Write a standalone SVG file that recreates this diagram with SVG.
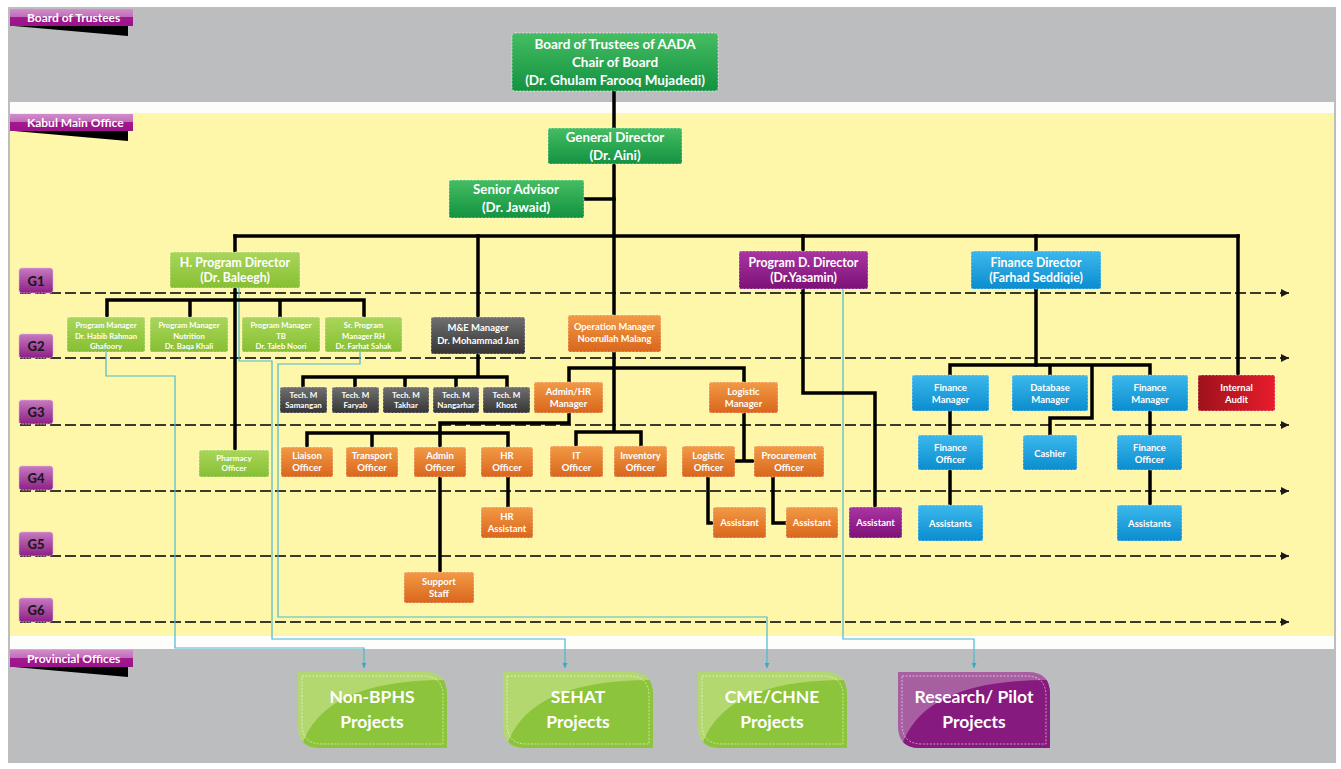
<svg xmlns="http://www.w3.org/2000/svg" width="1341" height="769" viewBox="0 0 1341 769">
<defs>
<linearGradient id="gDk" x1="0" y1="0" x2="0" y2="1"><stop offset="0" stop-color="#45bd62"/><stop offset="1" stop-color="#139241"/></linearGradient>
<linearGradient id="gLt" x1="0" y1="0" x2="0" y2="1"><stop offset="0" stop-color="#aad65a"/><stop offset="1" stop-color="#86bf33"/></linearGradient>
<linearGradient id="gOr" x1="0" y1="0" x2="0" y2="1"><stop offset="0" stop-color="#f29a45"/><stop offset="1" stop-color="#d9661c"/></linearGradient>
<linearGradient id="gGy" x1="0" y1="0" x2="0" y2="1"><stop offset="0" stop-color="#707070"/><stop offset="1" stop-color="#353535"/></linearGradient>
<linearGradient id="gPu" x1="0" y1="0" x2="0" y2="1"><stop offset="0" stop-color="#aa35a3"/><stop offset="1" stop-color="#7d1177"/></linearGradient>
<linearGradient id="gBl" x1="0" y1="0" x2="0" y2="1"><stop offset="0" stop-color="#3cb8ec"/><stop offset="1" stop-color="#0a8dcf"/></linearGradient>
<linearGradient id="gRd" x1="1" y1="0" x2="0" y2="0"><stop offset="0" stop-color="#e81c2c"/><stop offset="1" stop-color="#9e121c"/></linearGradient>
<linearGradient id="gTab" x1="0" y1="0" x2="0" y2="1"><stop offset="0" stop-color="#d28ccb"/><stop offset="0.45" stop-color="#c070b8"/><stop offset="0.5" stop-color="#a3188f"/><stop offset="1" stop-color="#9b1489"/></linearGradient>
<linearGradient id="gG" x1="0" y1="0" x2="0" y2="1"><stop offset="0" stop-color="#c67ac0"/><stop offset="1" stop-color="#8e1f86"/></linearGradient>
<marker id="ah" viewBox="0 0 10 10" refX="10" refY="5" markerWidth="11" markerHeight="8" markerUnits="userSpaceOnUse" orient="auto"><path d="M0,0 L10,5 L0,10 z" fill="#1a1a1a"/></marker>
<marker id="ahc" viewBox="0 0 10 10" refX="10" refY="5" markerWidth="5" markerHeight="5" markerUnits="userSpaceOnUse" orient="auto"><path d="M0,0 L10,5 L0,10 z" fill="#3aa8c8"/></marker>
<clipPath id="cp1"><path d="M298,672 H425 Q447,672 447,694 V748 H320 Q298,748 298,726 Z"/></clipPath>
<clipPath id="cp2"><path d="M503,672 H631 Q653,672 653,694 V748 H525 Q503,748 503,726 Z"/></clipPath>
<clipPath id="cp3"><path d="M698,672 H825 Q847,672 847,694 V748 H720 Q698,748 698,726 Z"/></clipPath>
<clipPath id="cp4"><path d="M898,672 H1028 Q1050,672 1050,694 V748 H920 Q898,748 898,726 Z"/></clipPath>
</defs>
<style>
.bx{stroke:#ffffff;stroke-opacity:.6;stroke-width:1;stroke-dasharray:2 1.5}
.t{font-family:Lato,"Liberation Sans",sans-serif;font-weight:700;fill:#ffffff;text-anchor:middle}
.s7{font-size:7.7px}.s8{font-size:8px}.s9{font-size:9.5px}.s10{font-size:10px}
.ln{fill:none;stroke:#000;stroke-width:3.5;stroke-linecap:square}
.gl{fill:none;stroke:#3b3a2e;stroke-width:2;stroke-dasharray:11 4}
.cy{fill:none;stroke:#4cb8cf;stroke-width:1.2}
.dk{fill:url(#gDk)}.lt{fill:url(#gLt)}.or{fill:url(#gOr)}.gy{fill:url(#gGy)}.pu{fill:url(#gPu)}.bl{fill:url(#gBl)}.rd{fill:url(#gRd)}
.tab{fill:url(#gTab)}
.tt{font-family:Lato,"Liberation Sans",sans-serif;font-weight:700;font-size:12px;fill:#ffffff}
.gb{fill:url(#gG);stroke:#e3b5df;stroke-width:.8;stroke-dasharray:2 1}
.gt{font-family:Lato,"Liberation Sans",sans-serif;font-weight:900;font-size:13px;fill:#1a1a1a;text-anchor:middle}
.pr{font-family:Lato,"Liberation Sans",sans-serif;font-weight:700;font-size:17.5px;fill:#ffffff;text-anchor:middle}
.pd{fill:none;stroke:#ffffff;stroke-opacity:.7;stroke-width:.8;stroke-dasharray:2 1.5}
</style>

<!-- background -->
<g id="background">
<rect x="0" y="0" width="1341" height="769" fill="#ffffff"/>
<rect x="8" y="7" width="1328" height="756" fill="#bcbdbf"/>
<rect x="10" y="102" width="1324" height="11" fill="#fdfdfb"/>
<rect x="10" y="113" width="1324" height="523" fill="#fef6a9"/>
<rect x="10" y="636" width="1324" height="13" fill="#fdfdfb"/>
</g>

<!-- section tabs -->
<g id="tab-board">
<polygon points="14,26 128,26 128,36" fill="#000"/>
<rect x="10" y="9" width="123" height="17" class="tab"/>
<text x="27" y="22" class="tt">Board of Trustees</text>
</g>
<g id="tab-kabul">
<polygon points="14,131 128,131 128,141" fill="#000"/>
<rect x="10" y="114" width="123" height="17" class="tab"/>
<text x="27" y="127" class="tt">Kabul Main Office</text>
</g>
<g id="tab-provincial">
<polygon points="14,667 128,667 128,677" fill="#000"/>
<rect x="10" y="650" width="123" height="17" class="tab"/>
<text x="27" y="663" class="tt">Provincial Offices</text>
</g>

<!-- grade lines -->
<g id="grade-lines">
<path class="gl" d="M20,293 H1289" marker-end="url(#ah)"/>
<path class="gl" d="M20,358 H1289" marker-end="url(#ah)"/>
<path class="gl" d="M20,425 H1289" marker-end="url(#ah)"/>
<path class="gl" d="M20,491 H1289" marker-end="url(#ah)"/>
<path class="gl" d="M20,556 H1289" marker-end="url(#ah)"/>
<path class="gl" d="M20,622 H1289" marker-end="url(#ah)"/>
</g>
<g id="grade-labels">
<rect x="19" y="268" width="34" height="25" rx="3" class="gb"/><text x="36" y="285.5" class="gt">G1</text>
<rect x="19" y="334" width="34" height="24" rx="3" class="gb"/><text x="36" y="350.5" class="gt">G2</text>
<rect x="19" y="400" width="34" height="24" rx="3" class="gb"/><text x="36" y="416.5" class="gt">G3</text>
<rect x="19" y="466" width="34" height="24" rx="3" class="gb"/><text x="36" y="482.5" class="gt">G4</text>
<rect x="19" y="532" width="34" height="24" rx="3" class="gb"/><text x="36" y="548.5" class="gt">G5</text>
<rect x="19" y="598" width="34" height="24" rx="3" class="gb"/><text x="36" y="614.5" class="gt">G6</text>
</g>

<!-- connectors -->
<g id="connectors">
<path class="cy" d="M106,352 V376 H175 V648 H364 V668" marker-end="url(#ahc)"/>
<path class="cy" d="M239,288 V361 H272 V639 H565 V668" marker-end="url(#ahc)"/>
<path class="cy" d="M360,352 V364 H278 V617 H767 V668" marker-end="url(#ahc)"/>
<path class="cy" d="M843,289 V639 H974 V668" marker-end="url(#ahc)"/>
<path class="ln" d="M614,91 V315"/>
<path class="ln" d="M584,199 H614"/>
<path class="ln" d="M235,236 H1238"/>
<path class="ln" d="M235,236 V450"/>
<path class="ln" d="M478,236 V317"/>
<path class="ln" d="M803,236 V393 H875 V507"/>
<path class="ln" d="M1036,236 V365"/>
<path class="ln" d="M1238,236 V375"/>
<path class="ln" d="M107,300 H364 M107,300 V317 M190,300 V317 M280,300 V317 M364,300 V317"/>
<path class="ln" d="M478,354 V377 M303,377 H507 M303,377 V387 M355,377 V387 M405,377 V387 M456,377 V387 M507,377 V387"/>
<path class="ln" d="M569,368 H744 M569,368 V382 M744,368 V382"/>
<path class="ln" d="M614,352 V432 M576,432 H641 M576,432 V446 M641,432 V446"/>
<path class="ln" d="M569,413 V423 H440 V447 M307,433 H508 M307,433 V447 M372,433 V447 M508,433 V447"/>
<path class="ln" d="M440,477 V572"/>
<path class="ln" d="M508,477 V507"/>
<path class="ln" d="M744,413 V461 M735,461 H754"/>
<path class="ln" d="M708,477 V523 H713 M773,477 V523 H786"/>
<path class="ln" d="M950,365 H1150 M950,365 V375 M1050,365 V375 M1150,365 V375 M1092,365 V418 H1050 V435"/>
<path class="ln" d="M950,411 V505 M1150,411 V505"/>
</g>

<!-- nodes -->
<g id="n-board"><rect x="512" y="33" width="206" height="58" rx="3" class="dk bx"/>
<text x="615" y="48.5" class="t" style="font-size:13.5px">Board of Trustees of AADA</text>
<text x="615" y="66.5" class="t" style="font-size:13.5px">Chair of Board</text>
<text x="615" y="84.5" class="t" style="font-size:13.5px">(Dr. Ghulam Farooq Mujadedi)</text></g>

<g id="n-gd"><rect x="548" y="128" width="134" height="36" rx="2" class="dk bx"/>
<text x="615" y="142" class="t" style="font-size:13.3px">General Director</text>
<text x="615" y="160" class="t" style="font-size:13.3px">(Dr. Aini)</text></g>

<g id="n-sa"><rect x="449" y="180" width="135" height="38" rx="2" class="dk bx"/>
<text x="516" y="193.5" class="t" style="font-size:13.3px">Senior Advisor</text>
<text x="516" y="211.5" class="t" style="font-size:13.3px">(Dr. Jawaid)</text></g>

<g id="n-hpd"><rect x="170" y="252" width="130" height="36" rx="2" class="lt bx"/>
<text x="235" y="266.5" class="t" style="font-size:12.3px">H. Program Director</text>
<text x="235" y="281.5" class="t" style="font-size:12.3px">(Dr. Baleegh)</text></g>

<g id="n-pm1"><rect x="67" y="317" width="78" height="35" rx="2" class="lt bx"/>
<text x="106" y="327.8" class="t s7">Program Manager</text>
<text x="106" y="338.6" class="t s7">Dr. Habib Rahman</text>
<text x="106" y="349" class="t s7">Ghafoory</text></g>
<g id="n-pm2"><rect x="150" y="317" width="78" height="35" rx="2" class="lt bx"/>
<text x="189" y="327.8" class="t s7">Program Manager</text>
<text x="189" y="338.6" class="t s7">Nutrition</text>
<text x="189" y="349" class="t s7">Dr. Baqa Khali</text></g>
<g id="n-pm3"><rect x="242" y="317" width="78" height="35" rx="2" class="lt bx"/>
<text x="281" y="327.8" class="t s7">Program Manager</text>
<text x="281" y="338.6" class="t s7">TB</text>
<text x="281" y="349" class="t s7">Dr. Taleb Noori</text></g>
<g id="n-pm4"><rect x="325" y="317" width="77" height="35" rx="2" class="lt bx"/>
<text x="363.5" y="327.8" class="t s7">Sr. Program</text>
<text x="363.5" y="338.6" class="t s7">Manager RH</text>
<text x="363.5" y="349" class="t s7">Dr. Farhat Sahak</text></g>

<g id="n-pharm"><rect x="199" y="450" width="70" height="27" rx="2" class="lt bx"/>
<text x="234" y="461" class="t s8">Pharmacy</text>
<text x="234" y="471" class="t s8">Officer</text></g>

<g id="n-me"><rect x="431" y="317" width="94" height="37" rx="2" class="gy bx"/>
<text x="478" y="330.5" class="t" style="font-size:9.5px">M&amp;E Manager</text>
<text x="478" y="343.5" class="t" style="font-size:9.5px">Dr. Mohammad Jan</text></g>

<g id="n-t1"><rect x="280" y="387" width="47" height="26" rx="2" class="gy bx"/>
<text x="303.5" y="397.8" class="t s8">Tech. M</text><text x="303.5" y="408" class="t s8">Samangan</text></g>
<g id="n-t2"><rect x="332" y="387" width="47" height="26" rx="2" class="gy bx"/>
<text x="355.5" y="397.8" class="t s8">Tech. M</text><text x="355.5" y="408" class="t s8">Faryab</text></g>
<g id="n-t3"><rect x="383" y="387" width="46" height="26" rx="2" class="gy bx"/>
<text x="406" y="397.8" class="t s8">Tech. M</text><text x="406" y="408" class="t s8">Takhar</text></g>
<g id="n-t4"><rect x="433" y="387" width="46" height="26" rx="2" class="gy bx"/>
<text x="456" y="397.8" class="t s8">Tech. M</text><text x="456" y="408" class="t s8">Nangarhar</text></g>
<g id="n-t5"><rect x="483" y="387" width="47" height="26" rx="2" class="gy bx"/>
<text x="506.5" y="397.8" class="t s8">Tech. M</text><text x="506.5" y="408" class="t s8">Khost</text></g>

<g id="n-op"><rect x="568" y="315" width="93" height="37" rx="2" class="or bx"/>
<text x="614.5" y="329.5" class="t" style="font-size:9.3px">Operation Manager</text>
<text x="614.5" y="341.5" class="t" style="font-size:9.3px">Noorullah Malang</text></g>

<g id="n-ahr"><rect x="534" y="382" width="69" height="31" rx="2" class="or bx"/>
<text x="568.5" y="394.5" class="t s9">Admin/HR</text><text x="568.5" y="406.5" class="t s9">Manager</text></g>
<g id="n-lm"><rect x="709" y="382" width="69" height="31" rx="2" class="or bx"/>
<text x="743.5" y="394.5" class="t s9">Logistic</text><text x="743.5" y="406.5" class="t s9">Manager</text></g>

<g id="n-liaison"><rect x="281" y="447" width="52" height="30" rx="2" class="or bx"/>
<text x="307" y="458.5" class="t s9">Liaison</text><text x="307" y="470.5" class="t s9">Officer</text></g>
<g id="n-transport"><rect x="346" y="447" width="52" height="30" rx="2" class="or bx"/>
<text x="372" y="458.5" class="t s9">Transport</text><text x="372" y="470.5" class="t s9">Officer</text></g>
<g id="n-admin"><rect x="414" y="447" width="52" height="30" rx="2" class="or bx"/>
<text x="440" y="458.5" class="t s9">Admin</text><text x="440" y="470.5" class="t s9">Officer</text></g>
<g id="n-hr"><rect x="481" y="447" width="52" height="30" rx="2" class="or bx"/>
<text x="507" y="458.5" class="t s9">HR</text><text x="507" y="470.5" class="t s9">Officer</text></g>
<g id="n-it"><rect x="550" y="446" width="53" height="31" rx="2" class="or bx"/>
<text x="576.5" y="458.5" class="t s9">IT</text><text x="576.5" y="470.5" class="t s9">Officer</text></g>
<g id="n-inv"><rect x="614" y="446" width="53" height="31" rx="2" class="or bx"/>
<text x="640.5" y="458.5" class="t s9">Inventory</text><text x="640.5" y="470.5" class="t s9">Officer</text></g>
<g id="n-lo"><rect x="682" y="446" width="53" height="31" rx="2" class="or bx"/>
<text x="708.5" y="458.5" class="t s9">Logistic</text><text x="708.5" y="470.5" class="t s9">Officer</text></g>
<g id="n-po"><rect x="754" y="446" width="70" height="31" rx="2" class="or bx"/>
<text x="789" y="458.5" class="t s9">Procurement</text><text x="789" y="470.5" class="t s9">Officer</text></g>

<g id="n-hra"><rect x="481" y="507" width="52" height="31" rx="2" class="or bx"/>
<text x="507" y="519.5" class="t s9">HR</text><text x="507" y="531.5" class="t s9">Assistant</text></g>
<g id="n-as1"><rect x="713" y="507" width="53" height="31" rx="2" class="or bx"/>
<text x="739.5" y="526" class="t s9">Assistant</text></g>
<g id="n-as2"><rect x="786" y="507" width="52" height="31" rx="2" class="or bx"/>
<text x="812" y="526" class="t s9">Assistant</text></g>
<g id="n-support"><rect x="404" y="572" width="70" height="31" rx="2" class="or bx"/>
<text x="439" y="584.5" class="t s9">Support</text><text x="439" y="596.5" class="t s9">Staff</text></g>

<g id="n-pdd"><rect x="739" y="251" width="129" height="38" rx="2" class="pu bx"/>
<text x="803.5" y="266.5" class="t" style="font-size:12.3px">Program D. Director</text>
<text x="803.5" y="282" class="t" style="font-size:12.3px">(Dr.Yasamin)</text></g>
<g id="n-pas"><rect x="849" y="507" width="53" height="31" rx="2" class="pu bx"/>
<text x="875.5" y="526" class="t s9">Assistant</text></g>

<g id="n-fd"><rect x="971" y="251" width="130" height="38" rx="2" class="bl bx"/>
<text x="1036" y="266.5" class="t" style="font-size:12.3px">Finance Director</text>
<text x="1036" y="282" class="t" style="font-size:12.3px">(Farhad Seddiqie)</text></g>
<g id="n-fm1"><rect x="912" y="375" width="77" height="36" rx="2" class="bl bx"/>
<text x="950.5" y="390.5" class="t s9">Finance</text><text x="950.5" y="402.5" class="t s9">Manager</text></g>
<g id="n-db"><rect x="1012" y="375" width="76" height="36" rx="2" class="bl bx"/>
<text x="1050" y="390.5" class="t s9">Database</text><text x="1050" y="402.5" class="t s9">Manager</text></g>
<g id="n-fm2"><rect x="1112" y="375" width="76" height="36" rx="2" class="bl bx"/>
<text x="1150" y="390.5" class="t s9">Finance</text><text x="1150" y="402.5" class="t s9">Manager</text></g>
<g id="n-audit"><rect x="1198" y="375" width="77" height="36" rx="2" class="rd bx"/>
<text x="1236.5" y="390.5" class="t s9">Internal</text><text x="1236.5" y="402.5" class="t s9">Audit</text></g>
<g id="n-fo1"><rect x="918" y="435" width="65" height="35" rx="2" class="bl bx"/>
<text x="950.5" y="450.5" class="t s9">Finance</text><text x="950.5" y="462.5" class="t s9">Officer</text></g>
<g id="n-cash"><rect x="1023" y="435" width="54" height="35" rx="2" class="bl bx"/>
<text x="1050" y="456.5" class="t s9">Cashier</text></g>
<g id="n-fo2"><rect x="1117" y="435" width="65" height="35" rx="2" class="bl bx"/>
<text x="1149.5" y="450.5" class="t s9">Finance</text><text x="1149.5" y="462.5" class="t s9">Officer</text></g>
<g id="n-fa1"><rect x="918" y="505" width="65" height="36" rx="2" class="bl bx"/>
<text x="950.5" y="526.5" class="t s9">Assistants</text></g>
<g id="n-fa2"><rect x="1117" y="505" width="65" height="36" rx="2" class="bl bx"/>
<text x="1149.5" y="526.5" class="t s9">Assistants</text></g>

<!-- provincial projects -->
<g id="p-nonbphs">
<g clip-path="url(#cp1)"><rect x="298" y="672" width="149" height="76" fill="#b3d870"/>
<path d="M300,752 Q318,678 452,680 V752 Z" fill="#8cc43b"/></g>
<path class="pd" d="M302,676 H423 Q443,676 443,696 V744 H322 Q302,744 302,724 Z"/>
<text x="372" y="703" class="pr">Non-BPHS</text><text x="372" y="728" class="pr">Projects</text></g>
<g id="p-sehat">
<g clip-path="url(#cp2)"><rect x="503" y="672" width="150" height="76" fill="#b3d870"/>
<path d="M505,752 Q523,678 658,680 V752 Z" fill="#8cc43b"/></g>
<path class="pd" d="M507,676 H629 Q649,676 649,696 V744 H527 Q507,744 507,724 Z"/>
<text x="578" y="703" class="pr">SEHAT</text><text x="578" y="728" class="pr">Projects</text></g>
<g id="p-cme">
<g clip-path="url(#cp3)"><rect x="698" y="672" width="149" height="76" fill="#b3d870"/>
<path d="M700,752 Q718,678 852,680 V752 Z" fill="#8cc43b"/></g>
<path class="pd" d="M702,676 H823 Q843,676 843,696 V744 H722 Q702,744 702,724 Z"/>
<text x="772" y="703" class="pr">CME/CHNE</text><text x="772" y="728" class="pr">Projects</text></g>
<g id="p-research">
<g clip-path="url(#cp4)"><rect x="898" y="672" width="152" height="76" fill="#a75fa2"/>
<path d="M900,752 Q918,678 1055,680 V752 Z" fill="#861a7e"/></g>
<path class="pd" d="M902,676 H1026 Q1046,676 1046,696 V744 H922 Q902,744 902,724 Z"/>
<text x="974" y="703" class="pr">Research/ Pilot</text><text x="974" y="728" class="pr">Projects</text></g>
</svg>
